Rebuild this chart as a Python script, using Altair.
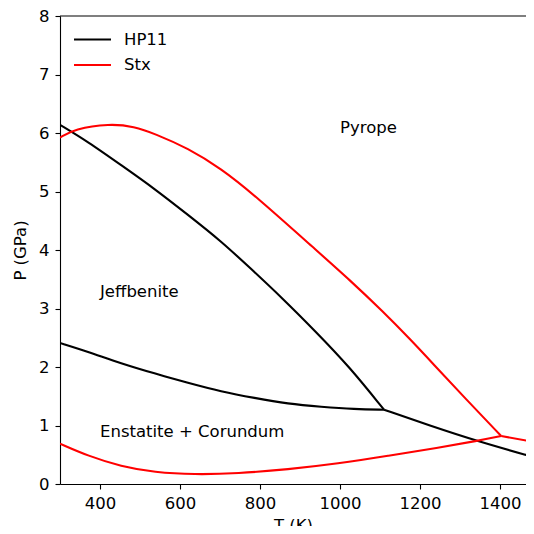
import altair as alt
import pandas as pd

# HP11 (black) segments
hp_a_T = [300, 370, 453, 536, 620, 703, 774, 857, 940, 1024, 1110]
hp_a_P = [6.14, 5.85, 5.45, 5.05, 4.60, 4.15, 3.70, 3.17, 2.60, 2.00, 1.27]
hp_b_T = [300, 370, 453, 536, 620, 703, 786, 870, 953, 1036, 1110]
hp_b_P = [2.41, 2.26, 2.06, 1.89, 1.73, 1.58, 1.47, 1.37, 1.32, 1.28, 1.27]
hp_c_T = [1110, 1224, 1344, 1484]
hp_c_P = [1.27, 1.00, 0.73, 0.46]

# Stx (red) segments
sx_a_T = [300, 336, 424, 486, 536, 620, 703, 786, 940, 1024, 1107, 1176, 1232, 1315, 1403]
sx_a_P = [5.92, 6.07, 6.16, 6.11, 5.99, 5.74, 5.39, 4.94, 4.00, 3.49, 2.95, 2.47, 2.06, 1.45, 0.82]
sx_b_T = [300, 370, 453, 536, 636, 744, 870, 995, 1120, 1245, 1345, 1403]
sx_b_P = [0.69, 0.48, 0.30, 0.20, 0.16, 0.18, 0.25, 0.35, 0.48, 0.62, 0.74, 0.82]
sx_c_T = [1403, 1484]
sx_c_P = [0.82, 0.72]

label_text = ["Pyrope", "Jeffbenite", "Enstatite + Corundum"]
label_T = [1000, 400, 400]
label_P = [6.0, 3.2, 0.8]

x_ticks = [400, 600, 800, 1000, 1200, 1400]
y_ticks = [0, 1, 2, 3, 4, 5, 6, 7, 8]

rows = []
for series, seg, Ts, Ps in [
    ("HP11", "hp_a", hp_a_T, hp_a_P),
    ("HP11", "hp_b", hp_b_T, hp_b_P),
    ("HP11", "hp_c", hp_c_T, hp_c_P),
    ("Stx", "sx_a", sx_a_T, sx_a_P),
    ("Stx", "sx_b", sx_b_T, sx_b_P),
    ("Stx", "sx_c", sx_c_T, sx_c_P),
]:
    for t, p in zip(Ts, Ps):
        rows.append({"series": series, "seg": seg, "T": t, "P": p})
df = pd.DataFrame(rows)
labels = pd.DataFrame({"text": label_text, "T": label_T, "P": label_P})

FONT = "DejaVu Sans"
FS = 16.5
xscale = alt.Scale(domain=[300, 1465], nice=False)
yscale = alt.Scale(domain=[0, 8], nice=False)

lines = alt.Chart(df).mark_line(strokeWidth=2.1, clip=True, interpolate="basis").encode(
    x=alt.X("T:Q", scale=xscale,
            axis=alt.Axis(title="T (K)", values=x_ticks, format="d")),
    y=alt.Y("P:Q", scale=yscale,
            axis=alt.Axis(title="P (GPa)", values=y_ticks, format="d")),
    color=alt.Color("series:N",
                    scale=alt.Scale(domain=["HP11", "Stx"], range=["#000000", "#ff0000"]),
                    legend=alt.Legend(title=None, orient="none", legendX=22, legendY=13,
                                      symbolType="M-2,0H2", symbolSize=342,
                                      symbolStrokeWidth=2.1, labelOffset=21,
                                      labelFontSize=FS, labelFont=FONT,
                                      labelColor="#000000", rowPadding=6.5)),
    detail="seg:N",
)

texts = alt.Chart(labels).mark_text(align="left", baseline="alphabetic",
                                    font=FONT, fontSize=FS, color="#000000").encode(
    x=alt.X("T:Q", scale=xscale),
    y=alt.Y("P:Q", scale=yscale),
    text="text:N",
)

top = alt.Chart(pd.DataFrame({"P": [8]})).mark_rule(color="#000000", strokeWidth=1.1).encode(
    y=alt.Y("P:Q", scale=yscale),
    x=alt.value(0),
    x2=alt.value(466),
)

chart = alt.layer(lines, texts, top).properties(
    width=466, height=468,
    autosize=alt.AutoSizeParams(type="none"),
    padding={"left": 52, "top": 8, "right": 0, "bottom": 42},
).configure_view(stroke=None).configure_axis(
    grid=False, domainColor="#000000", domainWidth=1.1,
    tickColor="#000000", tickWidth=1.1, tickSize=5,
    labelColor="#000000", labelFont=FONT, labelFontSize=FS, labelPadding=6,
    titleColor="#000000", titleFont=FONT, titleFontSize=FS, titleFontWeight="normal",
).configure_axisX(titlePadding=6).configure_axisY(titlePadding=10)

chart.save("out.html", embed_options={"renderer": "svg", "actions": False})
